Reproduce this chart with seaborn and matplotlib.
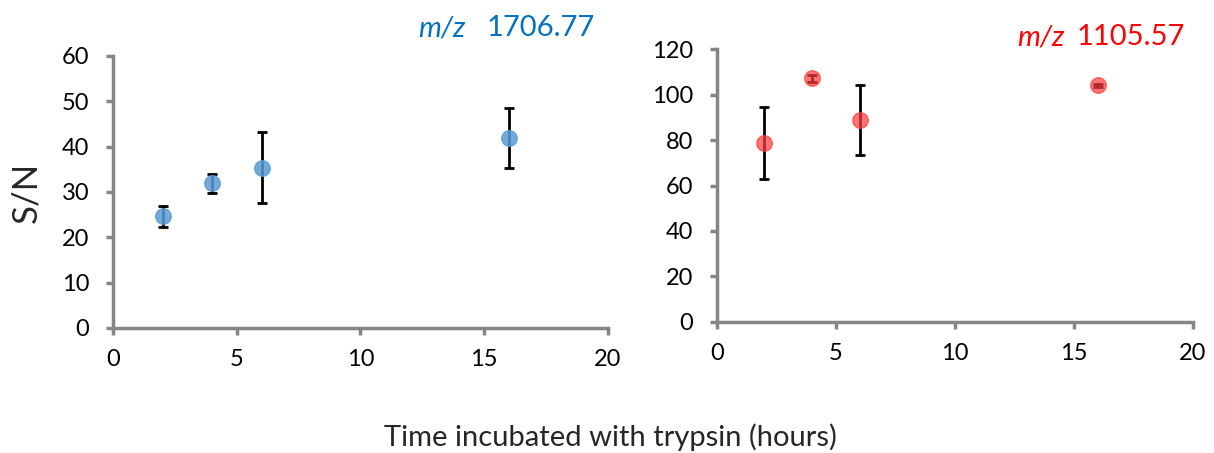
import matplotlib
matplotlib.use('Agg')
import matplotlib.pyplot as plt
import seaborn as sns
import pandas as pd

sns.set_style("white")
plt.rcParams['font.family'] = ['Lato', 'DejaVu Sans']

# data
hours = [2, 4, 6, 16]
sn_1706 = [24.6, 31.9, 35.4, 42.0]
err_1706 = [2.35, 2.05, 7.75, 6.6]
sn_1105 = [78.6, 107.2, 88.9, 104.1]
err_1105 = [15.9, 1.5, 15.5, 0.7]

x_ticks = [0, 5, 10, 15, 20]
y_ticks_left = [0, 10, 20, 30, 40, 50, 60]
y_ticks_right = [0, 20, 40, 60, 80, 100, 120]

blue = '#5B9BD5'
red = '#FF3B3B'
grey = '#868686'

fig = plt.figure(figsize=(12.14, 4.53), dpi=100)
ax1 = fig.add_axes([0.0931, 0.276, 0.4077, 0.6004])
ax2 = fig.add_axes([0.5904, 0.2898, 0.3923, 0.6014])


def panel(ax, y, err, color, yticks, alpha):
    df = pd.DataFrame({'hours': hours, 'sn': y})
    ax.errorbar(hours, y, yerr=err, fmt='none', ecolor='black', elinewidth=2,
                capsize=3.5, capthick=2, zorder=2)
    sns.scatterplot(data=df, x='hours', y='sn', ax=ax, color=color, s=125,
                    alpha=alpha, edgecolor=color, linewidth=1, zorder=3)
    ax.set_xlim(0, 20)
    ax.set_ylim(yticks[0], yticks[-1])
    ax.set_xticks(x_ticks)
    ax.set_yticks(yticks)
    ax.set_xlabel('')
    ax.set_ylabel('')
    for s in ['top', 'right']:
        ax.spines[s].set_visible(False)
    for s in ['left', 'bottom']:
        ax.spines[s].set_color(grey)
        ax.spines[s].set_linewidth(2.5)
    ax.tick_params(axis='both', direction='out', length=5, width=2.5,
                   color=grey, labelsize=17, labelcolor='black',
                   bottom=True, left=True)
    ax.tick_params(axis='y', pad=12)
    ax.tick_params(axis='x', pad=10)


panel(ax1, sn_1706, err_1706, blue, y_ticks_left, 0.85)
panel(ax2, sn_1105, err_1105, red, y_ticks_right, 0.7)

ax1.set_ylabel('S/N', fontsize=25, labelpad=14)

fig.text(0.3443, 0.938, 'm/z', color='#0070C0', fontsize=21, style='italic', ha='left', va='center')
fig.text(0.401, 0.938, '1706.77', color='#0070C0', fontsize=21, ha='left', va='center')
fig.text(0.8377, 0.918, 'm/z', color='#FF0000', fontsize=21, style='italic', ha='left', va='center')
fig.text(0.887, 0.918, '1105.57', color='#FF0000', fontsize=21, ha='left', va='center')

fig.text(0.503, 0.035, 'Time incubated with trypsin (hours)', fontsize=21,
         ha='center', va='center')

fig.savefig('out.png', dpi=100, facecolor='white')
